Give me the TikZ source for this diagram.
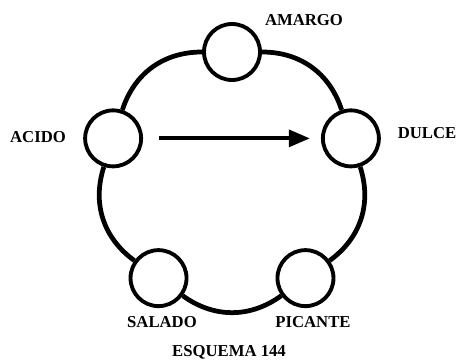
\documentclass[tikz,border=0pt]{standalone}
\usepackage{fontspec}
\setmainfont{Liberation Serif}
\usetikzlibrary{arrows.meta}
\begin{document}
\begin{tikzpicture}[
    sabor/.style={circle,draw,line width=2.2pt,fill=white,minimum size=1.12cm,inner sep=0pt},
    anillo/.style={line width=2.7pt},
    lbl/.style={font=\fontsize{9.5}{11}\selectfont\bfseries,inner sep=1pt},
    flecha/.style={line width=2.3pt,-{Triangle[length=12pt,width=9.5pt]}}]
  \useasboundingbox (0,0) rectangle (9.22,7.22);
  % sabores en pentagono
  \begin{scope}[shift={(4.64,3.68)}]
    \node[sabor] (amargo)  at (90:2.5)  {};
    \node[sabor] (acido)   at (162:2.5) {};
    \node[sabor] (salado)  at (234:2.5) {};
    \node[sabor] (picante) at (306:2.5) {};
    \node[sabor] (dulce)   at (18:2.5)  {};
  \end{scope}
  % anillo
  \draw[anillo] (amargo) to[bend right=36] (acido)
                (acido) to[bend right=36] (salado)
                (salado) to[bend right=36] (picante)
                (picante) to[bend right=36] (dulce)
                (dulce) to[bend right=36] (amargo);
  % etiquetas
  \node[lbl] (tamargo)  at (6.08,6.82) {AMARGO};
  \node[lbl] (tacido)   at (0.76,4.48) {ACIDO};
  \node[lbl] (tdulce)   at (8.54,4.56) {DULCE};
  \node[lbl] (tsalado)  at (3.24,0.78) {SALADO};
  \node[lbl] (tpicante) at (6.26,0.78) {PICANTE};
  \node[lbl] (titulo)   at (4.58,0.18) {ESQUEMA 144};
  % acido -> dulce
  \draw[flecha,shorten <=0.32cm,shorten >=0.22cm] (acido) -- (dulce);
\end{tikzpicture}
\end{document}
